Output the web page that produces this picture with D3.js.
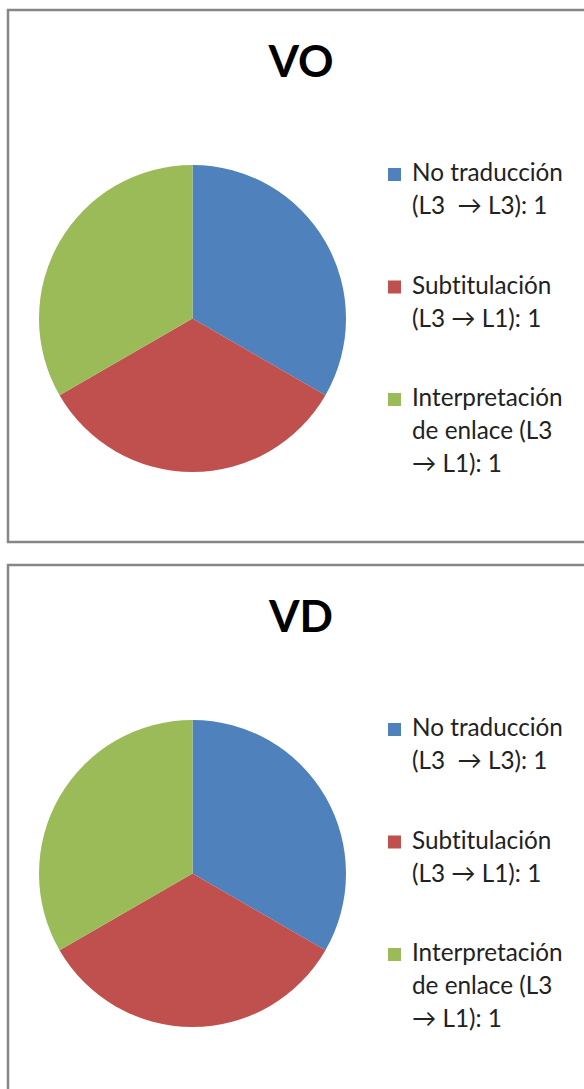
<!DOCTYPE html>
<html>
<head>
<meta charset="utf-8">
<script src="https://cdn.jsdelivr.net/npm/d3@7"></script>
<style>
  html, body { margin: 0; padding: 0; background: #fff; }
  svg { display: block; }
  text { font-variant-ligatures: none; font-feature-settings: "liga" 0; }
</style>
</head>
<body>
<div id="chart"></div>
<script>
// Données
const titles = ["VO", "VD"];
const categories = ["No traducción", "Subtitulación", "Interpretación de enlace"];
const legendLines = [
    ["No traducción", "(L3  \u2192 L3)"],
    ["Subtitulación", "(L3 \u2192 L1)"],
    ["Interpretación", "de enlace (L3", "\u2192 L1)"]
];
const voValues = [1, 1, 1];
const vdValues = [1, 1, 1];
const colors = ["#4F81BD", "#C0504D", "#9BBB59"];

const CONFIG = {
    width: 584,
    height: 1089,
    panelOffset: 555,
    fontFamily: "Lato, 'Open Sans', sans-serif"
};

const svg = d3.select("#chart").append("svg")
    .attr("width", CONFIG.width)
    .attr("height", CONFIG.height);

const pie = d3.pie().sort(null).value(d => d);
const arc = d3.arc().innerRadius(0).outerRadius(153.5);

function drawPanel(title, values, offsetY, panelHeight) {
    const g = svg.append("g").attr("transform", `translate(0,${offsetY})`);

    // Cadre
    g.append("rect")
        .attr("x", 8)
        .attr("y", 10)
        .attr("width", 620)
        .attr("height", panelHeight)
        .attr("fill", "#fff")
        .attr("stroke", "#868686")
        .attr("stroke-width", 2.5);

    // Titre
    g.append("text")
        .attr("x", 301)
        .attr("y", 77)
        .attr("text-anchor", "middle")
        .attr("font-family", CONFIG.fontFamily)
        .attr("font-weight", "bold")
        .attr("font-size", 44)
        .attr("fill", "#000")
        .text(title);

    // Camembert
    g.append("g")
        .attr("transform", "translate(192.5,318.5)")
        .selectAll("path")
        .data(pie(values))
        .enter()
        .append("path")
        .attr("d", arc)
        .attr("fill", (d, i) => colors[i]);

    // Légende
    const legend = g.selectAll(".legend-item")
        .data(categories)
        .enter()
        .append("g")
        .attr("class", "legend-item")
        .attr("transform", (d, i) => `translate(388,${181 + i * 112.5})`);

    legend.append("rect")
        .attr("x", 0)
        .attr("y", -13)
        .attr("width", 13)
        .attr("height", 13)
        .attr("fill", (d, i) => colors[i]);

    legend.each(function(d, i) {
        const lines = legendLines[i].slice();
        lines[lines.length - 1] += ": " + values[i];
        const text = d3.select(this).append("text")
            .attr("font-family", CONFIG.fontFamily)
            .attr("font-size", 24.3)
            .attr("fill", "#222")
            .style("white-space", "pre");
        lines.forEach((line, j) => {
            text.append("tspan")
                .attr("x", 24)
                .attr("y", j * 33)
                .text(line);
        });
    });
}

drawPanel(titles[0], voValues, 0, 532);
drawPanel(titles[1], vdValues, CONFIG.panelOffset, 600);
</script>
</body>
</html>
